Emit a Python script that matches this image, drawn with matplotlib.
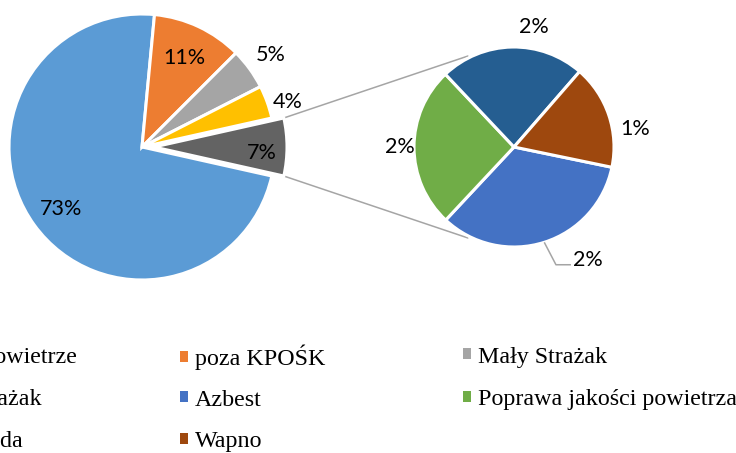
import math
import matplotlib
matplotlib.use("Agg")
import matplotlib.pyplot as plt
import matplotlib.patches as mpatches
from matplotlib.font_manager import FontProperties

# ---------------- data ----------------
main_labels = ["Czyste powietrze", "poza KPOŚK", "Mały Strażak", "Duży Strażak", "Inne"]
main_values = [73, 11, 5, 4, 7]
main_colors = ["#5B9BD5", "#ED7D31", "#A5A5A5", "#FFC000", "#636363"]

sub_labels = ["Azbest", "Poprawa jakości powietrza", "Moja Woda", "Wapno"]
sub_values = [2.36, 1.82, 1.64, 1.18]
sub_colors = ["#4472C4", "#70AD47", "#255E91", "#9E480E"]

legend_rows = [
    ["Czyste powietrze", "poza KPOŚK", "Mały Strażak"],
    ["Duży Strażak", "Azbest", "Poprawa jakości powietrza"],
    ["Moja Woda", "Wapno"],
]

# ---------------- layout ----------------
W, H = 736, 453
fig = plt.figure(figsize=(W / 100, H / 100), dpi=100)
ax = fig.add_axes([0, 0, 1, 1])

main_center = (142, H - 147)
main_r = 133
sub_center = (514, H - 147)
sub_r = 100

pct_font = FontProperties(family="Lato", size=15.5)
leg_font = FontProperties(family="Liberation Serif", size=17.3)

main_start = -360 * main_values[-1] / sum(main_values) / 2
wedges_m, _ = ax.pie(main_values, colors=main_colors, center=main_center,
                     radius=main_r, startangle=main_start, counterclock=False,
                     explode=[0, 0, 0, 0, 12],
                     wedgeprops=dict(edgecolor="white", linewidth=2.2))

sub_start = -11.7
wedges_s, _ = ax.pie(sub_values, colors=sub_colors, center=sub_center,
                     radius=sub_r, startangle=sub_start, counterclock=False,
                     wedgeprops=dict(edgecolor="white", linewidth=2.2))

def mid_angle(w):
    return math.radians((w.theta1 + w.theta2) / 2)

# main labels: (distance factor, angle offset in degrees)
main_lab_pos = [(0.77, 1.5), (0.74, -0.5), (1.19, -0.5), (1.15, -2.5), (0.81, -3)]
for w, v, (d, off) in zip(wedges_m, main_values, main_lab_pos):
    a = mid_angle(w) + math.radians(off)
    cx, cy = w.center
    ax.text(cx + d * w.r * math.cos(a), cy + d * w.r * math.sin(a),
            f"{v / sum(main_values) * 100:.0f}%", ha="center", va="center",
            fontproperties=pct_font, color="black")

# sub labels
sub_lab_pos = [None, (1.14, 0), (1.22, -10.5), (1.23, -10)]
for w, v, pos in zip(wedges_s, sub_values, sub_lab_pos):
    cx, cy = w.center
    a = mid_angle(w)
    if pos is None:
        # leader line label
        p0 = (cx + w.r * math.cos(a), cy + w.r * math.sin(a))
        p1 = (cx + 1.25 * w.r * math.cos(a + math.radians(2)),
              cy + 1.25 * w.r * math.sin(a + math.radians(2)))
        p2 = (p1[0] + 15, p1[1])
        ax.plot([p0[0], p1[0], p2[0]], [p0[1], p1[1], p2[1]],
                color="#A5A5A5", lw=1.1, solid_capstyle="butt")
        ax.text(p2[0] + 2, p2[1] - 1, f"{v:.0f}%", ha="left", va="baseline",
                fontproperties=pct_font, color="black")
        continue
    d, off = pos
    a = a + math.radians(off)
    ax.text(cx + d * w.r * math.cos(a), cy + d * w.r * math.sin(a),
            f"{v:.0f}%", ha="center", va="center",
            fontproperties=pct_font, color="black")

# connector lines from "other" wedge to the secondary pie
other = wedges_m[-1]
ocx, ocy = other.center
for th_main, th_sub in [(other.theta2, 117), (other.theta1, -117)]:
    t = math.radians(th_main)
    x0 = ocx + other.r * math.cos(t)
    y0 = ocy + other.r * math.sin(t)
    s = math.radians(th_sub)
    x1 = sub_center[0] + sub_r * 1.02 * math.cos(s)
    y1 = sub_center[1] + sub_r * 1.02 * math.sin(s)
    ax.plot([x0, x1], [y0, y1], color="#A5A5A5", lw=1.1, zorder=0)

ax.set_xlim(0, W)
ax.set_ylim(0, H)
ax.axis("off")

# ---------------- legend (3 columns, Excel-like equal pitch) ----------------
color_of = dict(zip(main_labels + sub_labels, main_colors + sub_colors))
col_x = [-104, 180, 463]
row_y = [357, 400, 442]
for i, row in enumerate(legend_rows):
    for j, name in enumerate(row):
        h = mpatches.Patch(facecolor=color_of[name], edgecolor="none")
        fig.legend([h], [name], loc="center left",
                   bbox_to_anchor=(col_x[j] / W, (H - row_y[i]) / H),
                   frameon=False, borderpad=0, borderaxespad=0,
                   handlelength=0.33, handleheight=0.33, handletextpad=0.29,
                   prop=leg_font)

fig.savefig("out.png", dpi=100)
